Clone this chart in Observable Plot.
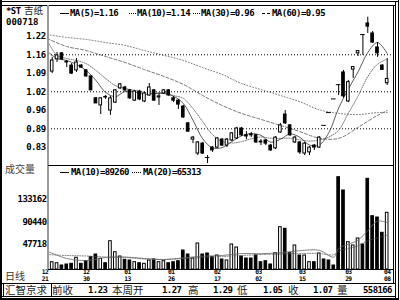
<!DOCTYPE html>
<html><head><meta charset="utf-8">
<script src="https://cdn.jsdelivr.net/npm/d3@7"></script>
<script src="https://cdn.jsdelivr.net/npm/@observablehq/plot@0.6"></script>
<style>
body{margin:0;background:#fff}
#wrap{position:relative;width:400px;height:300px;overflow:hidden;background:#fff}
.abs{position:absolute;white-space:pre}
.mono{font-family:"DejaVu Sans Mono","Noto Sans CJK SC",monospace;font-weight:bold;font-size:9px;line-height:9px;letter-spacing:-0.6px;color:#000}
.cjk{font-family:"Noto Sans CJK SC",sans-serif;font-size:10.5px;line-height:11px;color:#222}
.ln{position:absolute;background:#000}
</style></head><body><div id="wrap"></div>
<script>
// ---------- data ----------
const openP  = [1.096,1.139,1.160,1.131,1.117,1.100,1.117,1.100,1.079,1.002,
                0.977,1.007,0.959,0.987,1.037,1.040,1.030,0.994,1.026,0.991,
                1.012,1.030,1.005,1.019,1.030,1.002,0.994,0.973,0.914,0.857,
                0.808,0.843,0.794,0.829,0.829,0.857,0.836,0.854,0.861,0.896,
                0.872,0.875,0.872,0.850,0.854,0.836,0.826,0.882,0.945,0.907,
                0.847,0.847,0.808,0.812,0.836,0.829,0.907,0.952,1.000,1.050,
                1.093,0.991,1.103,1.160,1.226,1.265,1.230,1.181,1.117,1.055];
const highP  = [1.146,1.163,1.163,1.135,1.124,1.142,1.121,1.103,1.079,1.005,
                1.005,1.012,1.009,1.033,1.054,1.044,1.033,1.030,1.030,1.023,
                1.054,1.033,1.019,1.033,1.033,1.009,0.998,0.977,0.917,0.868,
                0.850,0.847,0.801,0.833,0.864,0.861,0.861,0.882,0.900,0.900,
                0.885,0.882,0.875,0.857,0.857,0.840,0.868,0.914,0.959,0.910,
                0.868,0.850,0.847,0.833,0.840,0.868,0.907,0.952,1.000,1.050,
                1.100,1.065,1.112,1.168,1.226,1.287,1.237,1.198,1.121,1.142];
const lowP   = [1.089,1.128,1.135,1.110,1.086,1.093,1.107,1.075,1.030,0.984,
                0.945,0.998,0.942,0.984,1.033,1.026,0.998,0.991,0.994,0.987,
                1.009,0.991,0.977,1.016,1.009,0.987,0.963,0.931,0.882,0.843,
                0.801,0.805,0.773,0.812,0.826,0.833,0.829,0.850,0.857,0.868,
                0.857,0.864,0.843,0.836,0.836,0.815,0.822,0.879,0.910,0.868,
                0.843,0.805,0.801,0.801,0.819,0.826,0.907,0.952,1.000,1.012,
                1.002,0.987,1.072,1.149,1.153,1.230,1.195,1.146,1.102,1.047];
const closeP = [1.135,1.153,1.139,1.128,1.089,1.128,1.110,1.079,1.030,0.984,
                1.002,1.005,1.002,1.030,1.051,1.030,1.002,1.026,0.998,1.019,
                1.040,0.994,1.009,1.030,1.012,0.994,0.980,0.935,0.885,0.864,
                0.847,0.808,0.794,0.819,0.861,0.836,0.857,0.879,0.896,0.872,
                0.868,0.872,0.847,0.847,0.843,0.819,0.864,0.907,0.914,0.872,
                0.864,0.812,0.843,0.829,0.829,0.864,0.907,0.952,1.000,1.050,
                1.009,1.059,1.112,1.168,1.226,1.254,1.198,1.160,1.102,1.070];
const volume = [13890,11980,7610,9510,10840,22260,10840,15790,23400,28530,
                20350,11980,53830,32910,24730,18450,17120,13890,11980,10840,
                17120,19020,13890,15790,11980,13890,15790,36140,28530,20920,
                49460,28530,30440,23400,26630,19020,17120,47560,41850,24730,
                20920,20920,26630,13890,15790,9510,31010,80470,77420,31010,
                45660,26630,26630,13890,13890,30440,19020,17120,7610,175580,
                150280,51930,45660,58970,47560,172540,101390,98920,69810,107860];

// moving averages at sample candle indices
const maFineIdx = [-1,1,3,5,7,9,11,13,15,17,19,21,23,25,27,29,31,33,35,37,39,41,43,45,47,49,51,53,55,57,59,61,63,65,67,69];
const ma5  = [1.167,1.142,1.135,1.121,1.100,1.065,1.023,1.008,1.026,1.024,
              1.016,1.019,1.019,1.009,0.984,0.925,0.860,0.828,0.829,0.850,
              0.870,0.878,0.872,0.848,0.858,0.877,0.865,0.838,0.838,0.882,
              0.968,1.035,1.095,1.163,1.198,1.160];
const ma10 = [1.205,1.153,1.142,1.135,1.124,1.100,1.072,1.047,1.037,1.030,
              1.023,1.019,1.023,1.012,1.002,0.966,0.920,0.875,0.850,0.845,
              0.850,0.860,0.866,0.862,0.861,0.862,0.856,0.852,0.855,0.866,
              0.890,0.950,1.010,1.078,1.122,1.140];
const maCoarseIdx = [-1,3,7,11,15,19,23,27,31,35,39,43,47,51,55,59,63,67,69];
const ma30 = [1.212,1.184,1.170,1.149,1.128,1.103,1.079,1.051,1.012,0.977,0.949,0.928,0.907,0.885,0.862,0.861,0.900,0.942,0.959];
const ma60 = [1.226,1.216,1.209,1.198,1.188,1.170,1.153,1.135,1.110,1.086,1.054,1.033,1.012,0.990,0.962,0.949,0.945,0.952,0.952];

const volMaIdx = [-1,3,7,11,15,19,23,27,31,35,39,43,47,51,55,58,59,61,63,65,67,69];
const volMa10 = [34810,20930,17120,22830,23780,20930,19020,22000,25500,26630,30440,30000,32000,35800,36500,23500,40000,48000,56000,74000,92000,89260];
const volMa20 = [28530,26630,25680,23780,22830,19970,19020,20930,22830,24730,26630,28530,29490,30440,30440,28000,35000,40000,45000,55000,60000,65313];

const priceTicks = [0.83,0.895,0.96,1.025,1.09,1.155,1.22];
const priceTickLabels = ["0.83","0.89","0.96","1.02","1.09","1.16","1.22"];
const priceGrid = [0.895,1.025,1.155];
const volTicks = [47718,90440,133162];
const volTickLabels = ["47718","90440","133162"];
const dateTickPos = [-1.5,7,15.5,24.5,34,42.5,51.5,61,69];
const dateMonth = ["12","12","01","01","02","03","03","03","04"];
const dateDay   = ["21","30","13","26","17","02","15","29","08"];

const stockName = "吉纸", stockPrefix = "*ST", stockCode = "000718";
const legendNames = ["MA(5)","MA(10)","MA(30)","MA(60)"];
const legendValues = ["1.16","1.14","0.96","0.95"];
const volLegendNames = ["MA(10)","MA(20)"];
const volLegendValues = ["89260","65313"];
const infoLabels = ["前收","本周开","高","低","收","量"];
const infoValues = ["1.23","1.27","1.29","1.05","1.07","558166"];

// ---------- build ----------
const candles = openP.map((o,i)=>({i, open:o, high:highP[i], low:lowP[i], close:closeP[i], vol:volume[i], up: closeP[i] > o}));
const pts = (idx, vals) => idx.map((x,k)=>({x, y: vals[k]}));
const xDomain = [-0.76, 70.3];
const hw = 0.27;
const font = {fontFamily:"DejaVu Sans Mono", fontWeight:"bold"};
const svgStyle = {background:"transparent", overflow:"visible", fontFamily:"DejaVu Sans Mono", letterSpacing:"-0.6px"};
const maStroke = "#555";
const maW = 0.8;

const pricePlot = Plot.plot({
  width:400, height:165, marginLeft:48, marginRight:7, marginTop:6, marginBottom:0,
  x:{domain:xDomain, axis:null}, y:{domain:[0.766,1.3247], axis:null},
  style: svgStyle,
  marks:[
    Plot.ruleY(priceGrid, {y:d=>d, stroke:"#000", strokeDasharray:"1,2"}),
    Plot.text(priceTicks, {y:d=>d, text:(d,i)=>priceTickLabels[i], frameAnchor:"left", textAnchor:"end", dx:-3, fontSize:9, ...font, fill:"#000"}),
    Plot.line(pts(maCoarseIdx, ma60), {x:"x", y:"y", curve:"catmull-rom", stroke:maStroke, strokeWidth:maW, strokeDasharray:"1,2", clip:true}),
    Plot.line(pts(maCoarseIdx, ma30), {x:"x", y:"y", curve:"catmull-rom", stroke:maStroke, strokeWidth:maW, strokeDasharray:"3,2", clip:true}),
    Plot.line(pts(maFineIdx, ma10), {x:"x", y:"y", curve:"catmull-rom", stroke:maStroke, strokeWidth:maW, strokeDasharray:"1,1.3", clip:true}),
    Plot.line(pts(maFineIdx, ma5), {x:"x", y:"y", curve:"catmull-rom", stroke:"#333", strokeWidth:maW, clip:true}),
    Plot.ruleX(candles, {x:"i", y1:"low", y2:"high", stroke:"#000"}),
    Plot.rect(candles.filter(d=>d.up), {x1:d=>d.i-hw, x2:d=>d.i+hw, y1:"open", y2:"close", fill:"#fff", stroke:"#000"}),
    Plot.rect(candles.filter(d=>!d.up && d.open!==d.close), {x1:d=>d.i-hw, x2:d=>d.i+hw, y1:"open", y2:"close", fill:"#000", stroke:"#000"}),
    Plot.ruleY(candles.filter(d=>d.open===d.close), {x1:d=>d.i-hw-0.2, x2:d=>d.i+hw+0.2, y:"close", stroke:"#000"})
  ]
});

const volPlot = Plot.plot({
  width:400, height:118, marginLeft:48, marginRight:7, marginTop:0, marginBottom:14,
  x:{domain:xDomain, axis:null}, y:{domain:[0,197840], axis:null},
  style: svgStyle,
  marks:[
    Plot.rect(candles.filter(d=>d.up), {x1:d=>d.i-hw, x2:d=>d.i+hw, y1:0, y2:"vol", fill:"#fff", stroke:"#000"}),
    Plot.rect(candles.filter(d=>!d.up), {x1:d=>d.i-hw, x2:d=>d.i+hw, y1:0, y2:"vol", fill:"#000", stroke:"#000"}),
    Plot.line(pts(volMaIdx, volMa20), {x:"x", y:"y", curve:"catmull-rom", stroke:maStroke, strokeWidth:maW, strokeDasharray:"1,1.5", clip:true}),
    Plot.line(pts(volMaIdx, volMa10), {x:"x", y:"y", curve:"catmull-rom", stroke:"#666", strokeWidth:maW, clip:true}),
    Plot.text(volTicks, {y:d=>d, text:(d,i)=>volTickLabels[i], frameAnchor:"left", textAnchor:"end", dx:-2, fontSize:9, ...font, fill:"#000"}),
    Plot.text(dateTickPos, {x:d=>d, text:(d,i)=>dateMonth[i], frameAnchor:"bottom", lineAnchor:"top", dy:0.3, fontSize:6.3, ...font, fill:"#000"}),
    Plot.text(dateTickPos, {x:d=>d, text:(d,i)=>dateDay[i], frameAnchor:"bottom", lineAnchor:"top", dy:6.6, fontSize:6.3, ...font, fill:"#000"})
  ]
});

const wrap = document.getElementById("wrap");
function holder(top, node){const d=document.createElement("div");d.style.position="absolute";d.style.left="0px";d.style.top=top+"px";d.appendChild(node);wrap.appendChild(d);}
holder(0, pricePlot);
holder(165, volPlot);

function box(x,y,w,h,c){const d=document.createElement("div");d.className="ln";Object.assign(d.style,{left:x+"px",top:y+"px",width:w+"px",height:h+"px",background:c||"#000"});wrap.appendChild(d);}
function txt(s,x,cy,cls,size){const d=document.createElement("div");d.className="abs "+cls;d.textContent=s;
  const lh = size ? size : (cls==="mono"?9:11); if(size){d.style.fontSize=size+"px";} d.style.lineHeight=lh+"px";
  d.style.left=x+"px";d.style.top=(cy-lh/2)+"px";wrap.appendChild(d);return d;}
function sym(x,cy,w,style){const d=document.createElement("div");Object.assign(d.style,{position:"absolute",left:x+"px",top:Math.round(cy)+"px",width:w+"px",height:"0px",borderTop:"1px "+style+" #000"});wrap.appendChild(d);}

// frames and borders
box(0,1,399,1); box(0,5,396,1);
box(0,0,2,300);
box(395,1,1,298); box(398,0,1,300);
box(393,5,1,278);
box(46.5,5,2.5,265,"#9a9a9a");
box(48,165,345,1);
box(48,269,345,1);
box(2,283,394,1); box(2,296,394,1);
box(3,283,1,14); box(51,283,1,14);
box(0,298,399,2);

// left labels
txt(stockPrefix,6,11.2,"mono");
txt(stockName,24,11.2,"cjk",9.5);
const code = txt(stockCode,6,22,"mono"); code.style.letterSpacing="0px";
txt("成交量",5,168.5,"cjk",10).style.color="#444";
txt("日线",5,275.5,"cjk",10).style.color="#333";

// price legend
const legSymX=[60,129,193,262], legSymW=[9,7,7,8], legStyle=["solid","dotted","dotted","dashed"], legTxtX=[70,137,201,272];
legendNames.forEach((n,k)=>{sym(legSymX[k],13,legSymW[k],legStyle[k]); txt(n+"="+legendValues[k],legTxtX[k],13,"mono");});
// volume legend
const vSymX=[60,132], vSymW=[9,9], vStyle=["solid","dotted"], vTxtX=[71,143];
volLegendNames.forEach((n,k)=>{sym(vSymX[k],172,vSymW[k],vStyle[k]); txt(n+"="+volLegendValues[k],vTxtX[k],172,"mono");});

// info bar
txt("汇智京求",5,290.3,"cjk",10.5);
const infoLX=[52,112,188,237,288,337], infoVX=[88,162,213,263,313,363];
infoLabels.forEach((s,k)=>{txt(s,infoLX[k],290.3,"cjk",10.5); txt(infoValues[k],infoVX[k],290.3,"mono");});
</script></body></html>
